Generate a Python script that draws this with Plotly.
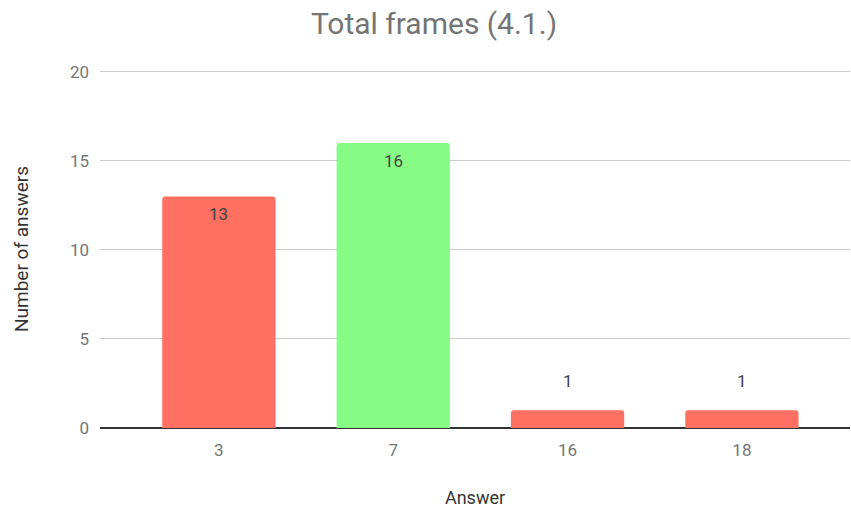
import plotly.graph_objects as go

# Answer options and how many respondents picked each
answers = ["3", "7", "16", "18"]
counts = [13, 16, 1, 1]
bar_colors = ["#ff7063", "#88fd86", "#ff7063", "#ff7063"]

# Value labels: taller bars get the label inside, short ones above
label_shift = [-18, -18, 29, 29]

fig = go.Figure(
    go.Bar(
        x=answers,
        y=counts,
        marker=dict(color=bar_colors, cornerradius=3, line=dict(width=0)),
        width=0.65,
        hoverinfo="skip",
    )
)

for i, (c, s) in enumerate(zip(counts, label_shift)):
    fig.add_annotation(
        x=i, y=c, text=str(c), showarrow=False, yshift=s,
        font=dict(family="Roboto", size=17, color="#424242"),
    )

fig.update_layout(
    width=851,
    height=513,
    margin=dict(l=100, r=1, t=70, b=85),
    paper_bgcolor="white",
    plot_bgcolor="white",
    showlegend=False,
    title=dict(
        text="Total frames (4.1.)",
        x=0.51, xanchor="center", y=0.955, yanchor="middle",
        font=dict(family="Roboto", size=30, color="#757575"),
    ),
    font=dict(family="Roboto", color="#757575"),
)

fig.update_xaxes(
    type="category",
    range=[-0.682, 3.62],
    showgrid=False,
    showline=False,
    ticks="",
    ticklabelstandoff=10,
    tickfont=dict(size=17, color="#757575"),
    title=dict(text="Answer", font=dict(size=18, color="#333333"), standoff=32),
)

fig.update_yaxes(
    range=[0, 20.1],
    tickvals=[0, 5, 10, 15, 20],
    showgrid=True,
    gridcolor="#cccccc",
    gridwidth=1,
    zeroline=True,
    zerolinecolor="#333333",
    zerolinewidth=1.5,
    ticks="",
    ticklabelstandoff=10,
    tickfont=dict(size=17, color="#757575"),
    title=dict(text="Number of answers", font=dict(size=19, color="#333333"), standoff=36),
)

fig.write_html("out.html")
